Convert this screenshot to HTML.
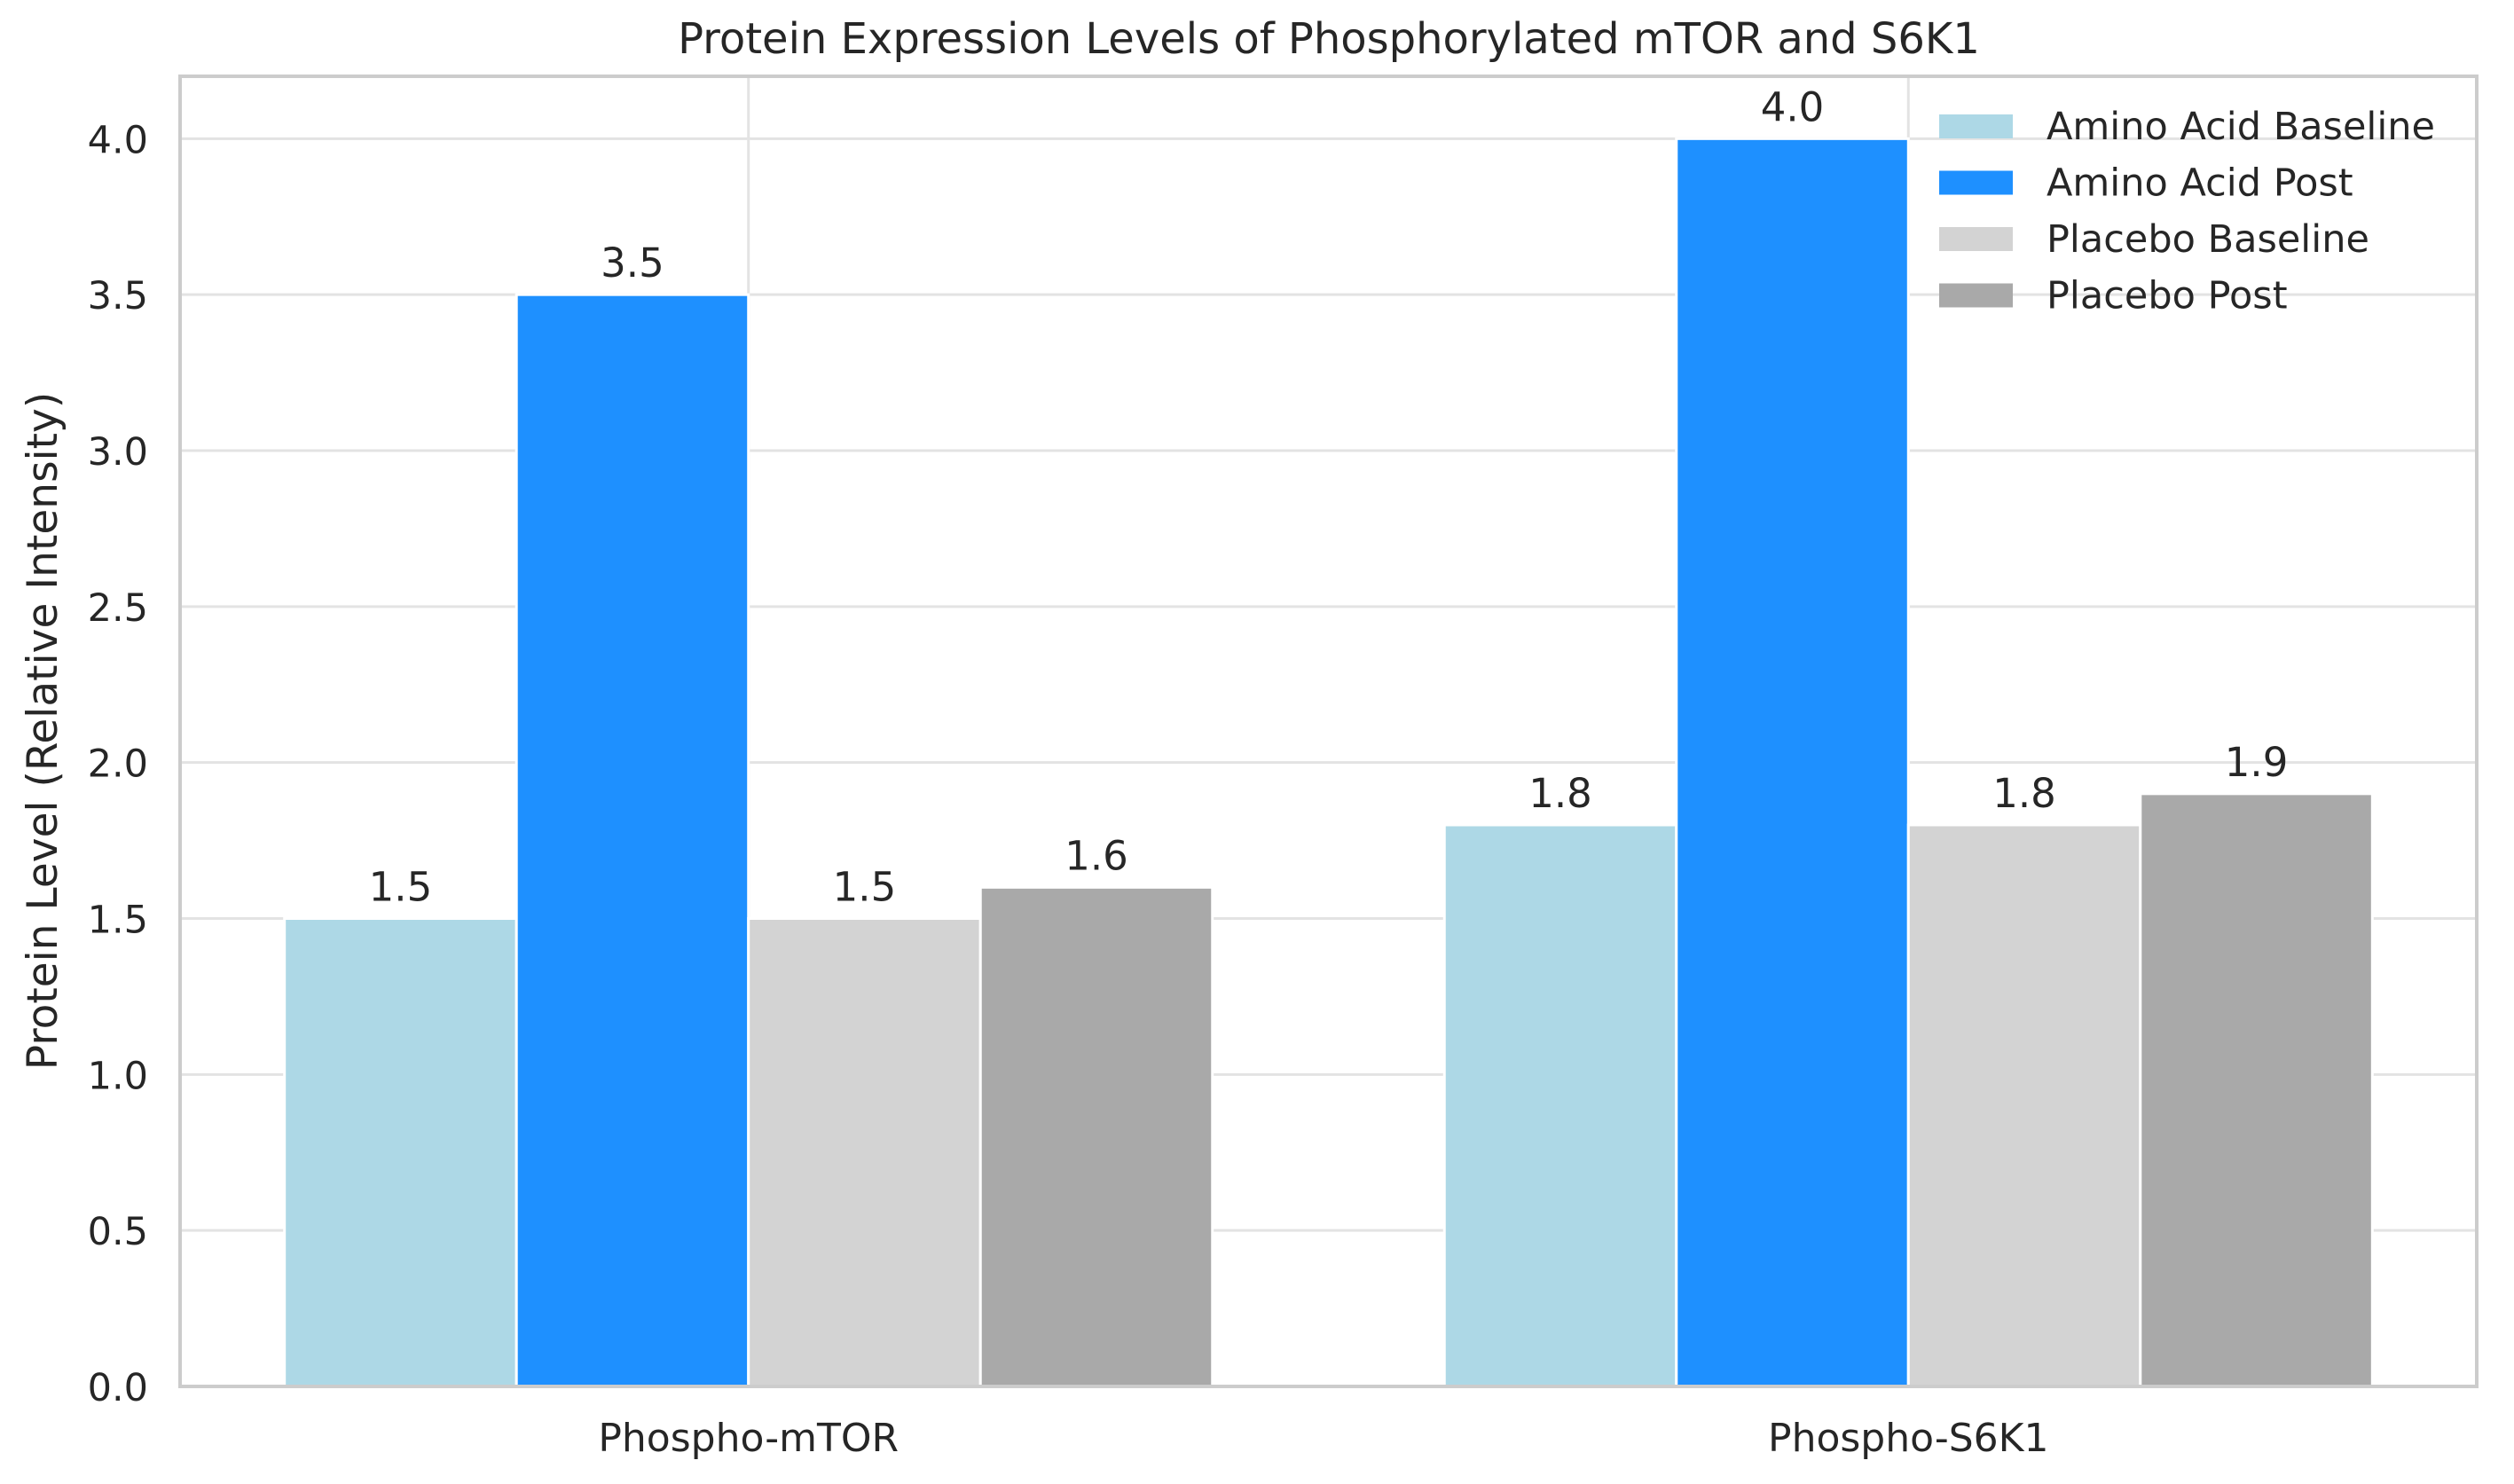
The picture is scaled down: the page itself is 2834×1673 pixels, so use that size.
<!DOCTYPE html>
<html><head><meta charset="utf-8"><style>
html,body{margin:0;padding:0;background:#fff;}
svg{display:block;font-family:"DejaVu Sans","Liberation Sans",sans-serif;}
</style></head><body>
<svg id="chart" width="2834" height="1673" viewBox="0 0 2834 1673">
<text x="1498" y="60" text-anchor="middle" font-size="48" fill="#262626">Protein Expression Levels of Phosphorylated mTOR and S6K1</text>
<text transform="translate(64,824) rotate(-90)" text-anchor="middle" font-size="47" fill="#262626">Protein Level (Relative Intensity)</text>
</svg>
<script>
const categories = ["Phospho-mTOR", "Phospho-S6K1"];
const seriesNames = ["Amino Acid Baseline", "Amino Acid Post", "Placebo Baseline", "Placebo Post"];
const aminoBaseline = [1.5, 1.8];
const aminoPost = [3.5, 4.0];
const placeboBaseline = [1.5, 1.8];
const placeboPost = [1.6, 1.9];
const yTicks = [0.0, 0.5, 1.0, 1.5, 2.0, 2.5, 3.0, 3.5, 4.0];
const colors = ["#add8e6", "#1e90ff", "#d3d3d3", "#a9a9a9"];

const NS = "http://www.w3.org/2000/svg";
const svg = document.getElementById("chart");
const L = 203, R = 2792, T = 86, B = 1563;
const xMin = -0.49, xMax = 1.49, yMin = 0, yMax = 4.2;
function xs(v){ return L + (v - xMin) / (xMax - xMin) * (R - L); }
function ys(v){ return B - (v - yMin) / (yMax - yMin) * (B - T); }
function mk(tag, attrs){ const e = document.createElementNS(NS, tag); for (const k in attrs) e.setAttribute(k, attrs[k]); svg.appendChild(e); return e; }

yTicks.forEach(function(t){
  const g = mk("line", {x1: L, x2: R, y1: ys(t), y2: ys(t), stroke: "#e3e3e3", "stroke-width": 3});
  
  
  const lbl = mk("text", {x: L - 36, y: ys(t) + 16, "text-anchor": "end", "font-size": 43, fill: "#262626"});
  lbl.textContent = t.toFixed(1);
  
  
});
categories.forEach(function(c, i){
  const g = mk("line", {x1: xs(i), x2: xs(i), y1: T, y2: B, stroke: "#e3e3e3", "stroke-width": 3});
  
  
  const lbl = mk("text", {x: xs(i), y: 1636, "text-anchor": "middle", "font-size": 44, fill: "#262626"});
  lbl.textContent = c;
  
  
});

const allSeries = [aminoBaseline, aminoPost, placeboBaseline, placeboPost];
const w = 0.2;
allSeries.forEach(function(vals, s){
  vals.forEach(function(v, i){
    const x0 = i - 0.4 + s * w;
    const r = mk("rect", {x: xs(x0), y: ys(v), width: xs(x0 + w) - xs(x0), height: ys(0) - ys(v), fill: colors[s], stroke: "#ffffff", "stroke-width": 3});
    
    
    const t = mk("text", {x: xs(x0 + w / 2), y: ys(v) - 20, "text-anchor": "middle", "font-size": 45, fill: "#262626"});
    t.textContent = v.toFixed(1);
    
    
  });
});

const frame = mk("rect", {x: L, y: T, width: R - L, height: B - T, fill: "none", stroke: "#cccccc", "stroke-width": 4});



seriesNames.forEach(function(n, s){
  const cy = 142 + s * 63.5;
  const p = mk("rect", {x: 2186, y: cy - 13, width: 83, height: 27, fill: colors[s]});
  
  
  const t = mk("text", {x: 2307, y: cy + 15, "font-size": 43, fill: "#262626"});
  t.textContent = n;
  
  
});
</script>
</body></html>
